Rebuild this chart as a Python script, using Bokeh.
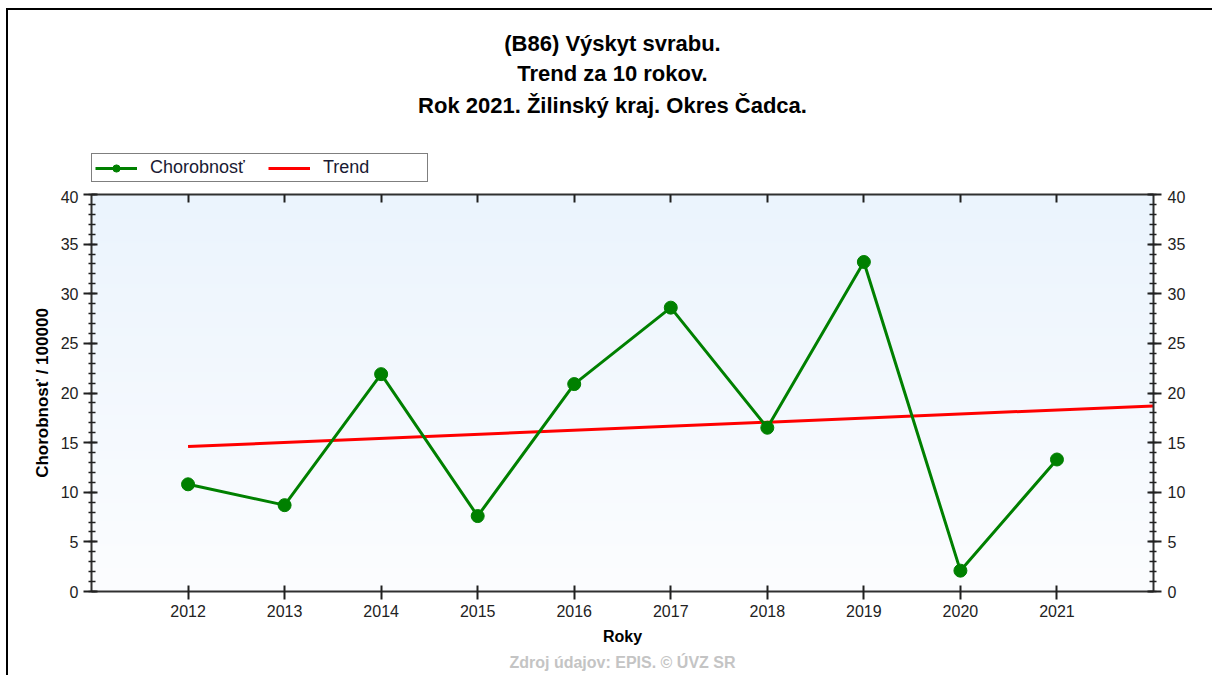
import numpy as np
from bokeh.plotting import figure
from bokeh.layouts import column
from bokeh.models import (Range1d, LinearAxis, FixedTicker, Legend, LegendItem, Title, Label)
from bokeh.embed import file_html
from bokeh.resources import INLINE

# ---- data ----
years = [2012, 2013, 2014, 2015, 2016, 2017, 2018, 2019, 2020, 2021]
year_labels = [str(y) for y in years]
incidence = [10.8, 8.7, 21.9, 7.6, 20.9, 28.6, 16.5, 33.2, 2.1, 13.3]
trend_years = [2012, 2022]
trend_values = [14.6, 18.7]
y_ticks = [0, 5, 10, 15, 20, 25, 30, 35, 40]
y_minor = list(range(0, 41))
x_start, x_end = 2011, 2022
y_start, y_end = 0, 40

title_lines = ["(B86) Výskyt svrabu.", "Trend za 10 rokov.", "Rok 2021. Žilinský kraj. Okres Čadca."]
series_names = ["Chorobnosť", "Trend"]
source_text = "Zdroj údajov: EPIS. © ÚVZ SR"

FONT = "Liberation Sans"
GREEN = "#008000"
RED = "#FF0000"

W = 1204
TOP_H = 180
MAIN_H = 485

# ---------------- header figure: titles + legend ----------------
# (its range lies outside the data, so the series drawn here only feed the legend)
hdr = figure(width=W, height=TOP_H, x_range=Range1d(0, 1), y_range=Range1d(0, 1),
             output_backend="svg", toolbar_location=None,
             x_axis_location=None, y_axis_location=None,
             min_border_left=0, min_border_right=0, min_border_top=0, min_border_bottom=0)
hdr.grid.visible = False
hdr.outline_line_color = None
hdr.background_fill_color = "white"
hdr.border_fill_color = "white"

for txt, ty in zip(title_lines, [147, 117, 85]):
    hdr.add_layout(Label(x=521, y=ty, x_units="screen", y_units="screen", text=txt,
                         text_align="center", text_baseline="middle", text_font=FONT,
                         text_font_style="bold", text_font_size="22px", text_color="#000000"))

lg_line = hdr.line(years, incidence, line_color=GREEN, line_width=3)
lg_mark = hdr.scatter(years, incidence, size=12, fill_color=GREEN, line_color=GREEN)
lg_trend = hdr.line(trend_years, trend_values, line_color=RED, line_width=3)

legend = Legend(items=[LegendItem(label=series_names[0], renderers=[lg_line, lg_mark]),
                       LegendItem(label=series_names[1], renderers=[lg_trend])],
                location=(0, 8), orientation="horizontal")
legend.border_line_color = "#000000"
legend.border_line_width = 1.5
legend.background_fill_color = "white"
legend.background_fill_alpha = 1
legend.padding = 3
legend.spacing = 17
legend.glyph_width = 42
legend.glyph_height = 18
legend.label_standoff = 13
legend.label_width = 101
legend.label_height = 18
legend.label_text_font = FONT
legend.label_text_font_size = "18px"
legend.label_text_color = "#1a1a33"
hdr.add_layout(legend)

# ---------------- main chart ----------------
p = figure(width=W, height=MAIN_H, x_range=Range1d(x_start, x_end), y_range=Range1d(y_start, y_end),
           output_backend="svg", toolbar_location=None,
           x_axis_location=None, y_axis_location=None,
           min_border_left=83, min_border_right=59, min_border_top=4, min_border_bottom=84)
p.grid.visible = False
p.outline_line_color = None
p.background_fill_color = "white"
p.border_fill_color = "white"

# gradient background of the plot area (top light blue -> bottom near white)
n = 200
t = np.linspace(0, 1, n)
top = np.array([235, 244, 253])
bot = np.array([252, 253, 255])
cols = (bot[None, :] * (1 - t[:, None]) + top[None, :] * t[:, None]).astype(np.uint32)
img = np.empty((n, 1), dtype=np.uint32)
view = img.view(dtype=np.uint8).reshape((n, 1, 4))
view[:, 0, 0] = cols[:, 0]
view[:, 0, 1] = cols[:, 1]
view[:, 0, 2] = cols[:, 2]
view[:, 0, 3] = 255
p.image_rgba(image=[img], x=x_start, y=y_start, dw=x_end - x_start, dh=y_end - y_start)

# series
p.line(trend_years, trend_values, line_color=RED, line_width=3)
p.line(years, incidence, line_color=GREEN, line_width=3)
p.scatter(years, incidence, size=13, fill_color=GREEN, line_color=GREEN)

def style_axis(ax, tick_in, tick_out, minor_in=0, minor_out=0):
    ax.axis_line_color = "#303030"
    ax.axis_line_width = 2
    ax.major_tick_line_color = "#202020"
    ax.major_tick_line_width = 2
    ax.minor_tick_line_color = "#202020"
    ax.minor_tick_line_width = 1.5
    ax.major_tick_in = tick_in
    ax.major_tick_out = tick_out
    ax.minor_tick_in = minor_in
    ax.minor_tick_out = minor_out
    ax.major_label_text_font = FONT
    ax.major_label_text_font_size = "16px"
    ax.major_label_text_color = "#222222"
    ax.axis_label_text_font = FONT
    ax.axis_label_text_font_style = "bold"
    ax.axis_label_text_color = "#000000"

# bottom
xb = LinearAxis(ticker=FixedTicker(ticks=years, minor_ticks=[]), axis_label="Roky")
xb.major_label_overrides = {y: l for y, l in zip(years, year_labels)}
style_axis(xb, 6, 8)
xb.major_label_standoff = 5
xb.axis_label_standoff = 8
xb.axis_label_text_font_size = "16px"
p.add_layout(xb, "below")

# left
yl = LinearAxis(ticker=FixedTicker(ticks=y_ticks, minor_ticks=y_minor), axis_label="Chorobnosť / 100000")
style_axis(yl, 6, 8, 4, 3)
yl.major_label_standoff = 5
yl.axis_label_standoff = 6
yl.axis_label_text_font_size = "17px"
p.add_layout(yl, "left")

# right
yr = LinearAxis(ticker=FixedTicker(ticks=y_ticks, minor_ticks=y_minor))
style_axis(yr, 6, 8, 4, 3)
yr.major_label_standoff = 6
p.add_layout(yr, "right")

# top (no labels)
xt = LinearAxis(ticker=FixedTicker(ticks=years, minor_ticks=[]))
style_axis(xt, 8, 0)
xt.major_label_text_font_size = "0px"
xt.major_label_text_color = None
xt.major_label_standoff = 0
p.add_layout(xt, "above")

p.add_layout(Title(text=source_text, align="center", offset=-14, standoff=9, text_font=FONT,
                   text_font_style="bold", text_font_size="16px", text_color="#C4C4C4"), "below")

layout = column(hdr, p, spacing=0, margin=(8, 0, 0, 6),
                styles={"border-top": "2px solid #000000", "border-left": "2px solid #000000"})
open("out.html", "w").write(file_html(layout, INLINE))
